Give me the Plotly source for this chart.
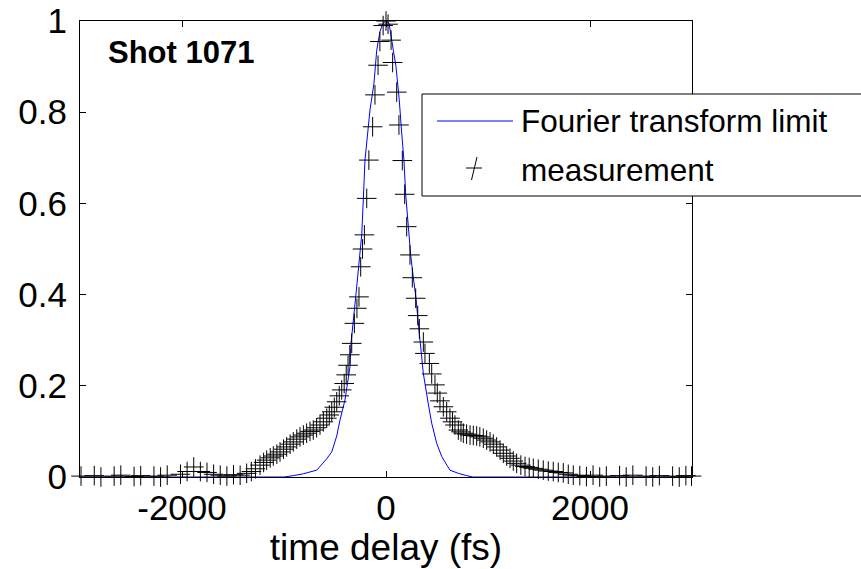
import plotly.graph_objects as go

# ---- data ----
meas_t = [-2990, -2925, -2860, -2795, -2730, -2665, -2600, -2535, -2470, -2405,
          -2340, -2275, -2210, -2145, -2080, -2015, -1950, -1885, -1820, -1755,
          -1690, -1625, -1560, -1495, -1430, -1366, -1320, -1280, -1235, -1200,
          -1170, -1135, -1105, -1070, -1039, -1005, -974, -940, -909, -875,
          -843, -810, -778, -745, -713, -680, -647, -614, -581, -556,
          -532, -507, -483, -458, -434, -410, -390, -372, -355, -336,
          -310, -285, -265, -248, -230, -212, -189, -168, -131, -108,
          -78, -60, -28, 0, 20, 50, 65, 105, 127, 160,
          183, 203, 235, 258, 291, 311, 327, 366, 382, 425,
          448, 480, 503, 529, 562, 595, 627, 652, 676, 709,
          735, 758, 790, 824, 856, 889, 920, 954, 987, 1020,
          1052, 1085, 1118, 1150, 1183, 1216, 1248, 1281, 1322, 1363,
          1404, 1444, 1493, 1542, 1591, 1640, 1689, 1738, 1787, 1836,
          1900, 1965, 2030, 2095, 2160, 2225, 2290, 2355, 2420, 2485,
          2550, 2615, 2680, 2745, 2810, 2875, 2940, 2995]
meas_v = [0.002, -0.001, 0.003, 0.000, -0.002, 0.002, 0.004, -0.001, 0.001, 0.003,
          -0.002, 0.002, 0.000, 0.004, -0.001, 0.006, 0.012, 0.022, 0.012, 0.010,
          0.006, 0.004, 0.002, 0.005, 0.004, 0.008, 0.012, 0.018, 0.026, 0.032,
          0.037, 0.042, 0.046, 0.050, 0.055, 0.061, 0.066, 0.072, 0.077, 0.083,
          0.088, 0.092, 0.096, 0.100, 0.103, 0.108, 0.114, 0.121, 0.129, 0.136,
          0.143, 0.153, 0.165, 0.178, 0.191, 0.205, 0.224, 0.245, 0.268, 0.293,
          0.337, 0.370, 0.395, 0.461, 0.500, 0.531, 0.611, 0.695, 0.768, 0.838,
          0.903, 0.955, 0.990, 1.000, 0.993, 0.958, 0.909, 0.844, 0.772, 0.694,
          0.620, 0.549, 0.487, 0.437, 0.392, 0.354, 0.325, 0.296, 0.271, 0.249,
          0.226, 0.202, 0.184, 0.167, 0.154, 0.143, 0.129, 0.121, 0.114, 0.103,
          0.099, 0.096, 0.094, 0.092, 0.091, 0.090, 0.088, 0.085, 0.081, 0.077,
          0.072, 0.066, 0.059, 0.052, 0.046, 0.041, 0.035, 0.030, 0.026, 0.023,
          0.021, 0.019, 0.017, 0.015, 0.013, 0.012, 0.010, 0.009, 0.006, 0.004,
          0.003, 0.001, 0.004, 0.000, 0.002, -0.002, 0.003, 0.000, 0.004, -0.001,
          0.002, 0.000, 0.003, -0.002, 0.002, 0.000, 0.003, 0.002]

ftl_t = [-3000, -1000, -909, -811, -679, -581, -532, -500, -483, -451,
         -402, -353, -343, -297, -271, -238, -222, -206, -157, -118,
         -91, -59, -30, 0, 30, 39, 72, 98, 130, 154,
         176, 193, 219, 242, 268, 294, 320, 340, 366, 415,
         448, 497, 546, 627, 709, 791, 850, 3000]
ftl_v = [0.0, 0.0, 0.003, 0.007, 0.015, 0.040, 0.055, 0.075, 0.090, 0.125,
         0.169, 0.242, 0.293, 0.395, 0.461, 0.531, 0.611, 0.695, 0.805, 0.863,
         0.936, 0.977, 0.995, 1.0, 0.995, 0.980, 0.936, 0.900, 0.827, 0.754,
         0.695, 0.620, 0.549, 0.487, 0.437, 0.392, 0.330, 0.290, 0.227, 0.160,
         0.118, 0.074, 0.045, 0.015, 0.008, 0.003, 0.0, 0.0]

x_ticks = [-2000, 0, 2000]
x_ticklabels = ["-2000", "0", "2000"]
y_ticks = [0, 0.2, 0.4, 0.6, 0.8, 1]
y_ticklabels = ["0", "0.2", "0.4", "0.6", "0.8", "1"]

FONT = "Arial, Liberation Sans, sans-serif"

fig = go.Figure()
fig.add_trace(go.Scatter(x=ftl_t, y=ftl_v, mode="lines", name="Fourier transform limit",
                         line=dict(color="#0000FF", width=1), showlegend=False))
fig.add_trace(go.Scatter(x=meas_t, y=meas_v, mode="markers", name="measurement",
                         marker=dict(symbol="cross-thin", size=14,
                                     line=dict(color="black", width=1)),
                         cliponaxis=False, showlegend=False))

# plot area on screen (page body margin removed below)
L, R, T, B = 80, 692, 21, 477
W, H = 861, 569


def px(x):
    return (x - L) / (R - L)


def py(y):
    return (B - y) / (B - T)


shapes = [
    dict(type="rect", xref="paper", yref="paper", x0=px(422), x1=px(880), y0=py(196), y1=py(94),
         line=dict(color="black", width=1), fillcolor="white", layer="above"),
    dict(type="line", xref="paper", yref="paper", x0=px(437), x1=px(513), y0=py(121), y1=py(121),
         line=dict(color="#0000FF", width=1), layer="above"),
    dict(type="line", xref="paper", yref="paper", x0=px(466), x1=px(482), y0=py(168), y1=py(168),
         line=dict(color="black", width=1), layer="above"),
    dict(type="line", xref="paper", yref="paper", x0=px(471.5), x1=px(477), y0=py(180), y1=py(157),
         line=dict(color="black", width=1), layer="above"),
]

annotations = [
    dict(text="<b>Shot 1071</b>", xref="paper", yref="paper", x=px(106), y=py(52),
         xanchor="left", yanchor="middle", showarrow=False,
         font=dict(family=FONT, size=31, color="black")),
    dict(text="Fourier transform limit", xref="paper", yref="paper", x=px(519), y=py(121),
         xanchor="left", yanchor="middle", showarrow=False,
         font=dict(family=FONT, size=31.5, color="black")),
    dict(text="measurement", xref="paper", yref="paper", x=px(519), y=py(170),
         xanchor="left", yanchor="middle", showarrow=False,
         font=dict(family=FONT, size=31.5, color="black")),
]

fig.update_layout(
    width=W, height=H,
    margin=dict(l=L, r=W - R, t=T, b=H - B, autoexpand=False),
    paper_bgcolor="white", plot_bgcolor="white",
    font=dict(family=FONT, size=35, color="black"),
    showlegend=False,
    shapes=shapes, annotations=annotations,
    xaxis=dict(range=[-3000, 3000], tickvals=x_ticks, ticktext=x_ticklabels,
               ticks="inside", ticklen=6, automargin=False, ticklabelstandoff=0,
               ticklabeloverflow="allow",
               tickcolor="black", showline=True, linecolor="black", linewidth=1,
               mirror="allticks", showgrid=False, zeroline=False,
               tickfont=dict(family=FONT, size=35),
               title=dict(text="time delay (fs)", font=dict(family=FONT, size=37), standoff=0)),
    yaxis=dict(range=[0, 1], tickvals=y_ticks, ticktext=y_ticklabels,
               ticks="inside", ticklen=6, automargin=False, ticklabelstandoff=5,
               ticklabeloverflow="allow",
               tickcolor="black", showline=True, linecolor="black", linewidth=1,
               mirror="allticks", showgrid=False, zeroline=False,
               tickfont=dict(family=FONT, size=35)),
)

fig.write_html("out.html", config={"displayModeBar": False},
               post_script="document.body.style.margin='0px';")
